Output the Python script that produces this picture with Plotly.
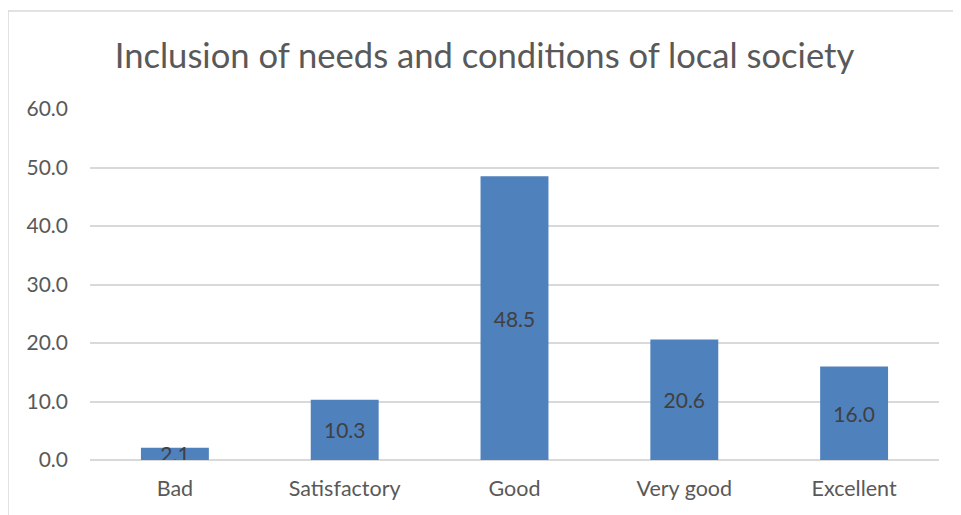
import plotly.graph_objects as go

categories = ["Bad", "Satisfactory", "Good", "Very good", "Excellent"]
values = [2.1, 10.3, 48.5, 20.6, 16.0]
tick_vals = [0, 10, 20, 30, 40, 50, 60]
tick_text = ["0.0", "10.0", "20.0", "30.0", "40.0", "50.0", "60.0"]
title = "Inclusion of needs and conditions of local society"

FONT = "Lato, Open Sans, sans-serif"
OFF = 8  # page body margin
L, R, T, B = 90 - OFF, 22, 109 - OFF, 55
W, H = 961 - OFF, 515 - OFF
pw, ph = W - L - R, H - T - B

fig = go.Figure(go.Bar(
    x=categories, y=values,
    marker=dict(color="#4F81BD", line=dict(width=0)),
    text=[f"{v:.1f}" for v in values],
    textposition="inside", insidetextanchor="middle",
    constraintext="none",
    textfont=dict(family=FONT, size=21, color="#404040"),
    hoverinfo="skip",
))

fig.update_layout(
    width=W, height=H,
    margin=dict(l=L, r=R, t=T, b=B),
    paper_bgcolor="white", plot_bgcolor="white",
    bargap=0.6,
    showlegend=False,
    title=dict(text=title, x=0.5, xanchor="center", y=1 - (56 - OFF) / H, yanchor="middle",
               font=dict(family=FONT, size=34.6, color="#595959")),
    xaxis=dict(showgrid=False, showline=False, ticks="", ticklabelstandoff=13,
               tickfont=dict(family=FONT, size=21.5, color="#595959")),
    yaxis=dict(range=[0, 60], tickvals=tick_vals, ticktext=tick_text,
               showgrid=True, gridcolor="#D9D9D9", gridwidth=1.5,
               zeroline=True, zerolinecolor="#D9D9D9", zerolinewidth=1.5,
               showline=False, ticks="", ticklabelstandoff=21,
               tickfont=dict(family=FONT, size=21, color="#595959")),
    shapes=[dict(type="rect", xref="paper", yref="paper",
                 x0=(8 - OFF - L) / pw, x1=1.2, y0=-0.5, y1=(H - B - (11 - OFF)) / ph,
                 line=dict(color="#D9D9D9", width=1.5), fillcolor="rgba(0,0,0,0)", layer="below")],
)

fig.write_html("out.html")
